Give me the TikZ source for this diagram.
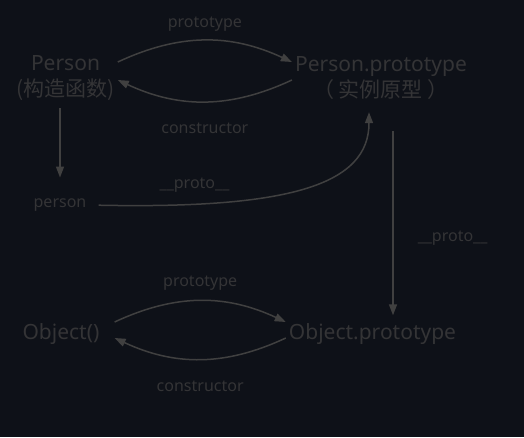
\documentclass[tikz,border=0pt]{standalone}
\usepackage{fontspec}
\setmainfont{Noto Sans}
\newfontfamily\cjk{Noto Sans CJK SC}
\usetikzlibrary{positioning,arrows.meta,calc}

\definecolor{bgdark}{RGB}{14,17,24}
\definecolor{txtgray}{RGB}{52,52,54}
\definecolor{linegray}{RGB}{64,64,64}

\begin{document}
\begin{tikzpicture}[
  x=1pt,y=-1pt,
  >={Triangle[length=11pt,width=8pt]},
  obj/.style={text=txtgray,font=\fontsize{21}{26.5}\selectfont,align=center,inner sep=3pt},
  small/.style={text=txtgray,font=\fontsize{16}{19}\selectfont,inner sep=2pt},
  lbl/.style={small},
  link/.style={->,line width=1.5pt,linegray},
]
\useasboundingbox[fill=bgdark] (0,0) rectangle (524,437);

\node[obj] (per) at (65.5,78.25) {Person\\{\cjk(构造函数)}};
\node[obj] (pp) at (381,78.25) {Person.prototype\\{\cjk（ 实例原型 ）}};
\node[small] (prs) at (60,205) {person};
\node[obj] (obj) at (61,334) {Object()};
\node[obj] (op) at (372.5,334) {Object.prototype};

% Person <-> Person.prototype
\draw[link] ([yshift=16.25pt]per.east) to[bend left=25]
  node[lbl,midway,above=6pt]{prototype} ([yshift=16.25pt]pp.west);
\draw[link] ([yshift=-1.75pt]pp.west) to[bend left=25]
  node[lbl,midway,below=19pt]{constructor} ([yshift=-1.75pt]per.east);

% instance
\draw[link,shorten <=4pt,shorten >=19pt] (per.south -| prs.north) -- (prs.north);
\draw[link,shorten <=10pt,shorten >=9pt] (prs.east) .. controls +(200,4) and +(0,82) ..
  node[lbl,pos=0.2,above=9pt]{\_\_proto\_\_} ([xshift=-12pt]pp.south);

% prototype chain
\draw[link,shorten <=28pt,shorten >=5pt] ([xshift=12pt]pp.south) --
  node[lbl,right=22pt,pos=0.62]{\_\_proto\_\_} ([xshift=20.5pt]op.north);

% Object <-> Object.prototype
\draw[link] ([xshift=12pt,yshift=12pt]obj.east) to[bend left=25]
  node[lbl,midway,above=8pt]{prototype} ([yshift=12pt]op.west);
\draw[link] ([yshift=-4pt]op.west) to[bend left=25]
  node[lbl,midway,below=19pt]{constructor} ([xshift=12pt,yshift=-4pt]obj.east);
\end{tikzpicture}
\end{document}
